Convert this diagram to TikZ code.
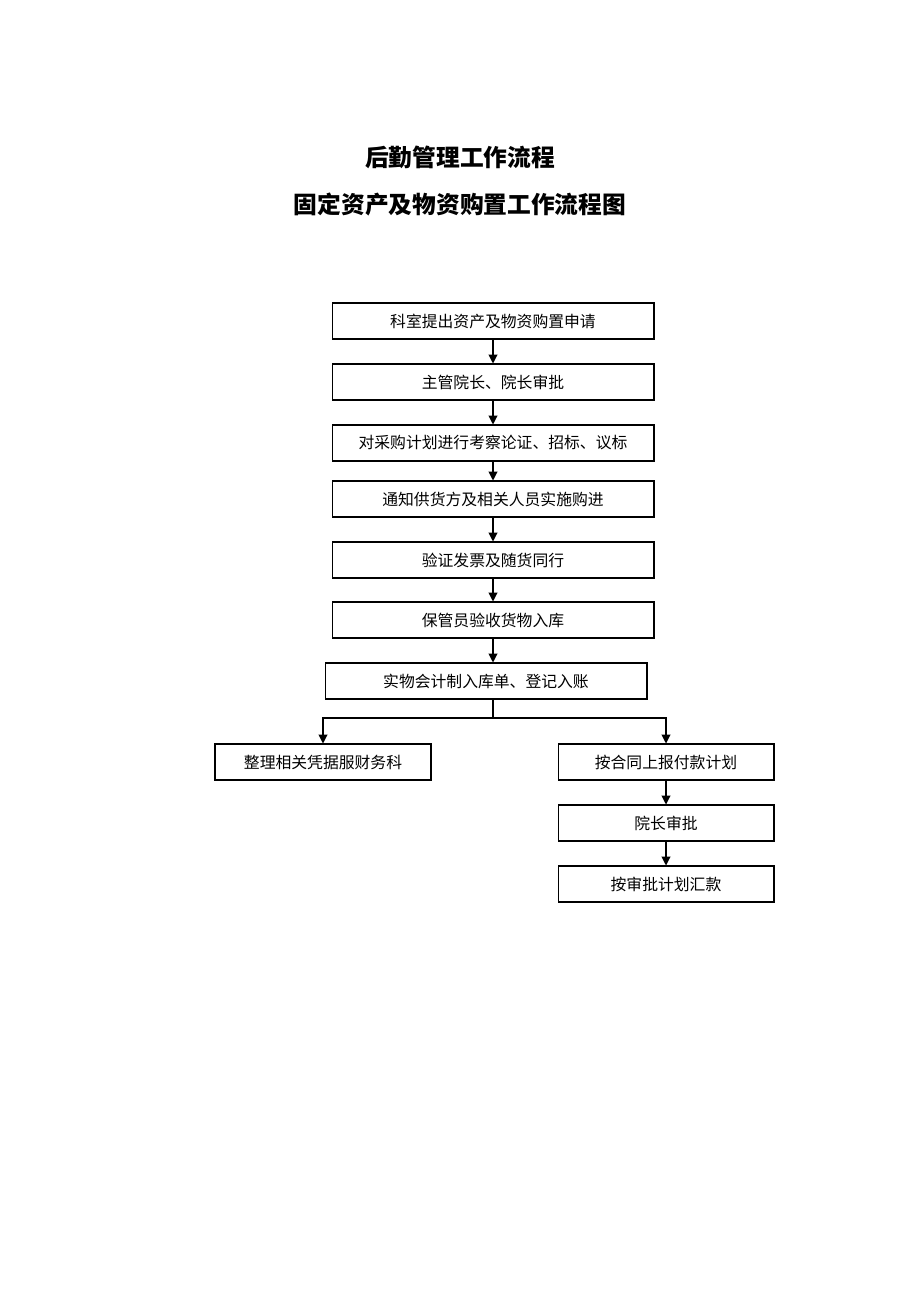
\documentclass[tikz,border=0pt]{standalone}
\usepackage{fontspec}
\newfontfamily\cjk{Noto Sans CJK SC}
\usetikzlibrary{arrows.meta}
\tikzset{
  box/.style={draw, semithick, minimum height=0.72cm, inner sep=0pt, font=\cjk\fontsize{9}{11}\selectfont},
  flow/.style={semithick, -{Triangle[length=5pt,width=5pt]}},
  title/.style={font=\cjk\bfseries\fontsize{13.5}{16}\selectfont}
}
\begin{document}
\begin{tikzpicture}[x=0.02cm, y=-0.02cm]
    \useasboundingbox (0,0) rectangle (920,1302);
    % Titles
    \node[title] (t1) at (460,157) {后勤管理工作流程};
    \node[title] (t2) at (460,205) {固定资产及物资购置工作流程图};

    % Main column
    \node[box, minimum width=6.44cm] (a1) at (493,321) {科室提出资产及物资购置申请};
    \node[box, minimum width=6.44cm] (a2) at (493,382) {主管院长、院长审批};
    \node[box, minimum width=6.44cm] (a3) at (493,443) {对采购计划进行考察论证、招标、议标};
    \node[box, minimum width=6.44cm] (a4) at (493,499) {通知供货方及相关人员实施购进};
    \node[box, minimum width=6.44cm] (a5) at (493,560) {验证发票及随货同行};
    \node[box, minimum width=6.44cm] (a6) at (493,620) {保管员验收货物入库};
    \node[box, minimum width=6.44cm] (a7) at (486,681) {实物会计制入库单、登记入账};

    % Branches
    \node[box, minimum width=4.32cm] (l1) at (323,762) {整理相关凭据服财务科};
    \node[box, minimum width=4.32cm] (r1) at (666,762) {按合同上报付款计划};
    \node[box, minimum width=4.32cm] (r2) at (666,823) {院长审批};
    \node[box, minimum width=4.32cm] (r3) at (666,884) {按审批计划汇款};

    % Connectors
    \foreach \u/\v in {a1/a2, a2/a3, a3/a4, a4/a5, a5/a6}
        \draw[flow] (\u.south) -- (\v.north);
    \draw[flow] (a6.south) -- (a6.south |- a7.north);
    \foreach \u/\v in {r1/r2, r2/r3}
        \draw[flow] (\u.south) -- (\v.north);
    \coordinate (split) at (493,718);
    \draw[semithick] (a7.south -| split) -- (split);
    \draw[flow] (split) -| (l1.north);
    \draw[flow] (split) -| (r1.north);
\end{tikzpicture}
\end{document}
